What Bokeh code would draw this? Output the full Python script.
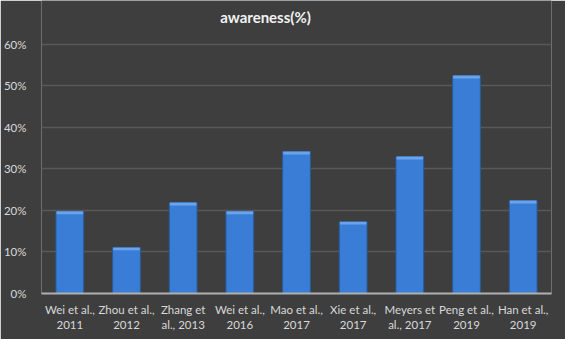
from bokeh.plotting import figure
from bokeh.models import Range1d, NumeralTickFormatter, FactorRange, Label
from bokeh.embed import file_html
from bokeh.resources import INLINE

studies = ["Wei et al.,\n2011", "Zhou et al.,\n2012", "Zhang et\nal., 2013", "Wei et al.,\n2016",
           "Mao et al.,\n2017", "Xie et al.,\n2017", "Meyers et\nal., 2017", "Peng et al.,\n2019",
           "Han et al.,\n2019"]
awareness = [0.198, 0.111, 0.219, 0.198, 0.342, 0.173, 0.330, 0.525, 0.224]
y_ticks = [0, 0.1, 0.2, 0.3, 0.4, 0.5, 0.6]

bg = "#3e3e3e"
# frame extends to the top of the canvas so the title can sit inside it
p = figure(width=565, height=339, x_range=FactorRange(*studies), y_range=Range1d(0, 0.706),
           output_backend="svg", toolbar_location=None,
           min_border_left=40, min_border_right=14, min_border_top=0, min_border_bottom=46)
p.background_fill_color = bg
p.border_fill_color = bg
p.outline_line_color = None

p.vbar(x=studies, top=awareness, width=0.49, fill_color="#3a7dd6", line_color="#2a5a98", line_width=1)
bevel_bottom = [v - 0.007 for v in awareness]
p.vbar(x=studies, top=awareness, bottom=bevel_bottom, width=0.47, fill_color="#78aef0",
       line_color=None, fill_alpha=0.8)

p.yaxis.ticker = y_ticks
p.yaxis.formatter = NumeralTickFormatter(format="0%")
p.yaxis.axis_line_color = None
p.yaxis.major_tick_line_color = None
p.yaxis.minor_tick_line_color = None
p.xaxis.major_tick_line_color = None
p.xaxis.axis_line_color = "#b0b0b0"
p.xaxis.axis_line_width = 2
for ax in (p.xaxis, p.yaxis):
    ax.major_label_text_color = "#d9d9d9"
    ax.major_label_text_font = "Lato"
    ax.major_label_text_font_size = "11.5px"
p.yaxis.major_label_standoff = 9
p.xaxis.major_label_standoff = 3
p.xgrid.grid_line_color = None
p.ygrid.grid_line_color = "#595959"
p.ygrid.grid_line_width = 1.5

title = Label(x=224, y=277, x_units="screen", y_units="screen", text="awareness(%)",
              text_align="center", text_baseline="middle", text_color="#f2f2f2",
              text_font="Lato", text_font_style="bold", text_font_size="15px")
p.add_layout(title)

open("out.html", "w").write(file_html(p, INLINE))
